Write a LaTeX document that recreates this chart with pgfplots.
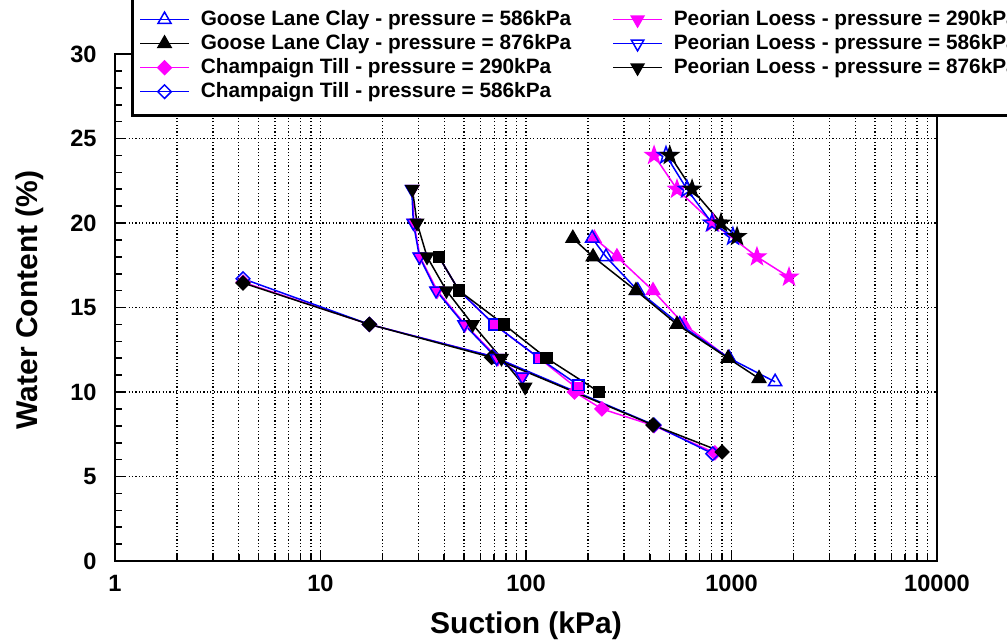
\documentclass[border=0pt]{standalone}
\usepackage{pgfplots}
\pgfplotsset{compat=1.18}
\usepackage{fontspec}
\setmainfont{Liberation Sans}
\definecolor{mag}{RGB}{255,0,255}
\definecolor{blu}{RGB}{0,0,255}
\pgfdeclareplotmark{fstar}{%
 \pgfpathmoveto{\pgfpointpolar{90}{1.25\pgfplotmarksize}}%
 \pgfpathlineto{\pgfpointpolar{126}{0.5\pgfplotmarksize}}%
 \pgfpathlineto{\pgfpointpolar{162}{1.25\pgfplotmarksize}}%
 \pgfpathlineto{\pgfpointpolar{198}{0.5\pgfplotmarksize}}%
 \pgfpathlineto{\pgfpointpolar{234}{1.25\pgfplotmarksize}}%
 \pgfpathlineto{\pgfpointpolar{270}{0.5\pgfplotmarksize}}%
 \pgfpathlineto{\pgfpointpolar{306}{1.25\pgfplotmarksize}}%
 \pgfpathlineto{\pgfpointpolar{342}{0.5\pgfplotmarksize}}%
 \pgfpathlineto{\pgfpointpolar{18}{1.25\pgfplotmarksize}}%
 \pgfpathlineto{\pgfpointpolar{54}{0.5\pgfplotmarksize}}%
 \pgfpathclose
 \pgfusepathqfillstroke}
\pgfdeclareplotmark{ostar}{%
 \pgfpathmoveto{\pgfpointpolar{90}{1.25\pgfplotmarksize}}%
 \pgfpathlineto{\pgfpointpolar{126}{0.5\pgfplotmarksize}}%
 \pgfpathlineto{\pgfpointpolar{162}{1.25\pgfplotmarksize}}%
 \pgfpathlineto{\pgfpointpolar{198}{0.5\pgfplotmarksize}}%
 \pgfpathlineto{\pgfpointpolar{234}{1.25\pgfplotmarksize}}%
 \pgfpathlineto{\pgfpointpolar{270}{0.5\pgfplotmarksize}}%
 \pgfpathlineto{\pgfpointpolar{306}{1.25\pgfplotmarksize}}%
 \pgfpathlineto{\pgfpointpolar{342}{0.5\pgfplotmarksize}}%
 \pgfpathlineto{\pgfpointpolar{18}{1.25\pgfplotmarksize}}%
 \pgfpathlineto{\pgfpointpolar{54}{0.5\pgfplotmarksize}}%
 \pgfpathclose
 \pgfusepathqstroke}
\begin{document}
\begin{tikzpicture}
\begin{axis}[
  name=ax,
  scale only axis, width=411pt, height=253.5pt,
  xmode=log, xmin=1, xmax=10000, ymin=0, ymax=30,
  xtick={1,10,100,1000,10000}, xticklabels={1,10,100,1000,10000},
  minor xtick={2,3,4,5,6,7,8,9,20,30,40,50,60,70,80,90,200,300,400,500,600,700,800,900,2000,3000,4000,5000,6000,7000,8000,9000},
  ytick={0,5,10,15,20,25,30}, yticklabels={0,5,10,15,20,25,30},
  minor ytick={1,2,3,4,6,7,8,9,11,12,13,14,16,17,18,19,21,22,23,24,26,27,28,29},
  tick pos=left, tick align=inside,
  major tick length=5pt, minor tick length=3.5pt,
  every tick/.style={black, line width=0.8pt},
  xmajorgrids=true, xminorgrids=true, ymajorgrids=true, yminorgrids=false,
  major grid style={black, line width=0.65pt, dash pattern=on 0.6pt off 1.1pt},
  minor grid style={black, line width=0.65pt, dash pattern=on 0.6pt off 1.1pt},
  axis line style={line width=1pt},
  tick label style={font=\fontsize{11.8}{13}\selectfont\bfseries},
  xticklabel style={inner ysep=0pt, yshift=-7pt},
  yticklabel style={inner xsep=0pt, xshift=-9pt},
  every axis x label/.style={at={(axis description cs:0.5,-0.128)}, anchor=center, font=\fontsize{15}{18}\selectfont\bfseries},
  every axis y label/.style={at={(axis description cs:-0.1034,0.515)}, rotate=90, anchor=center, font=\fontsize{15}{18}\selectfont\bfseries},
  xlabel={Suction (kPa)},
  ylabel={Water Content (\%)},
  every axis plot/.append style={line width=0.75pt},
  legend columns=2,
  legend cell align=left,
  legend image code/.code={\draw[mark repeat=2,mark phase=2,#1] plot coordinates {(0pt,0pt) (12.25pt,0pt) (24.5pt,0pt)};},
  legend style={
    at={(axis description cs:0.01946,0.8758)}, anchor=south west,
    draw=black, line width=1.3pt, fill=white,
    inner xsep=3.5pt, inner ysep=7.1pt,
    font=\fontsize{10.4}{12}\selectfont\bfseries,
    nodes={inner xsep=0pt, inner ysep=0pt, text height=7.6pt, text depth=2.2pt},
    row sep=2.2pt,
    /tikz/every odd column/.append style={column sep=5.5pt},
    /tikz/every even column/.append style={column sep=20.5pt},
  },
]
% Champaign Till (diamonds)
\addplot[mag, mark=square*, mark size=2.4pt, mark options={rotate=45, fill=mag, solid}, forget plot] coordinates {
 (4.2,16.5) (17.3,14) (69,12.1) (172,10) (234,9) (420,8) (830,6.4)};
\addplot[blu, mark=square, mark size=2.4pt, mark options={rotate=45, solid}, forget plot] coordinates {
 (4.2,16.7) (17.3,14) (69,12.1) (420,8.05) (810,6.35)};
\addplot[black, mark=square*, mark size=2.4pt, mark options={rotate=45, fill=black, solid}, forget plot] coordinates {
 (4.2,16.45) (17.3,14) (68,12.05) (415,8.05) (900,6.45)};
% squares
\addplot[mag, mark=square*, mark size=2.7pt, mark options={fill=mag, solid}, forget plot] coordinates {
 (37.7,18) (47.2,16) (70,14) (116,12) (178,10.2)};
\addplot[blu, mark=square, mark size=2.7pt, mark options={solid}, forget plot] coordinates {
 (37.7,18) (47.2,16) (70,14) (116,12) (180,10.4)};
\addplot[black, mark=square*, mark size=2.7pt, mark options={fill=black, solid}, forget plot] coordinates {
 (37.7,18) (47.2,16) (78,14) (126,12) (227,10)};
% down triangles (Peorian Loess)
\addplot[mag, mark=triangle*, mark size=3.6pt, mark options={rotate=180, fill=mag, solid}, forget plot] coordinates {
 (28,22) (28.5,20) (30.5,18) (37,16) (50.5,14) (73,12) (96,10.9)};
\addplot[blu, mark=triangle, mark size=3.6pt, mark options={rotate=180, solid}, forget plot] coordinates {
 (27.8,22) (28.3,20) (30.3,18) (36.5,16) (50,14) (72,12) (96,10.9)};
\addplot[black, mark=triangle*, mark size=3.6pt, mark options={rotate=180, fill=black, solid}, forget plot] coordinates {
 (28,22) (29.5,20) (33,18) (41,16) (55,14) (76,12) (99,10.3)};
% Goose Lane Clay (up triangles)
\addplot[mag, mark=triangle*, mark size=3.8pt, mark options={fill=mag, solid}, forget plot] coordinates {
 (215,19.1) (277,18) (415,16) (587,14) (970,12)};
\addplot[blu, mark=triangle, mark size=3.8pt, mark options={solid}, forget plot] coordinates {
 (210,19.1) (245,18) (350,16) (560,14) (975,12) (1630,10.6)};
\addplot[black, mark=triangle*, mark size=3.8pt, mark options={fill=black, solid}, forget plot] coordinates {
 (169,19.1) (212,18) (343,16) (543,14) (962,12) (1361,10.8)};
% stars
\addplot[mag, mark=fstar, mark size=3.5pt, mark options={fill=mag, solid}, forget plot] coordinates {
 (420,24) (543,22) (813,20) (1330,18) (1905,16.8)};
\addplot[blu, mark=ostar, mark size=3.5pt, mark options={solid}, forget plot] coordinates {
 (480,24) (607,22) (803,20) (1016,19.2)};
\addplot[black, mark=fstar, mark size=3.5pt, mark options={fill=black, solid}, forget plot] coordinates {
 (501,24) (643,22) (889,20) (1064,19.2)};
% legend (top row lies above the visible area)
\addlegendimage{empty legend}
\addlegendentry{}
\addlegendimage{empty legend}
\addlegendentry{}
\addlegendimage{blu, line width=0.75pt, mark=triangle, mark size=3.8pt, mark options={solid}}
\addlegendentry{Goose Lane Clay - pressure = 586kPa}
\addlegendimage{mag, line width=0.75pt, mark=triangle*, mark size=3.6pt, mark options={rotate=180, fill=mag, solid}}
\addlegendentry{Peorian Loess - pressure = 290kPa}
\addlegendimage{black, line width=0.75pt, mark=triangle*, mark size=3.8pt, mark options={fill=black, solid}}
\addlegendentry{Goose Lane Clay - pressure = 876kPa}
\addlegendimage{blu, line width=0.75pt, mark=triangle, mark size=3.6pt, mark options={rotate=180, solid}}
\addlegendentry{Peorian Loess - pressure = 586kPa}
\addlegendimage{mag, line width=0.75pt, mark=square*, mark size=2.4pt, mark options={rotate=45, fill=mag, solid}}
\addlegendentry{Champaign Till - pressure = 290kPa}
\addlegendimage{black, line width=0.75pt, mark=triangle*, mark size=3.6pt, mark options={rotate=180, fill=black, solid}}
\addlegendentry{Peorian Loess - pressure = 876kPa}
\addlegendimage{blu, line width=0.75pt, mark=square, mark size=2.4pt, mark options={rotate=45, solid}}
\addlegendentry{Champaign Till - pressure = 586kPa}
\end{axis}
\pgfresetboundingbox
\path[use as bounding box] ([shift={(-57.5pt,-41pt)}]ax.south west) rectangle ([shift={(446pt,280.5pt)}]ax.south west);
\end{tikzpicture}
\end{document}
